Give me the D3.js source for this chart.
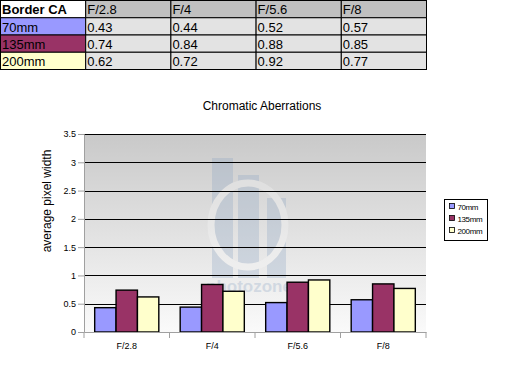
<!DOCTYPE html>
<html>
<head>
<meta charset="utf-8">
<script src="https://cdn.jsdelivr.net/npm/d3@7"></script>
<style>
  html, body { margin: 0; padding: 0; background: #fff; }
  svg { display: block; font-family: "Liberation Sans", Arial, sans-serif; }
</style>
</head>
<body>
<svg id="chart" width="512" height="376"></svg>
<script>
// Border chromatic aberration per focal length and aperture
const apertures = ["F/2.8", "F/4", "F/5.6", "F/8"];
const lenses = ["70mm", "135mm", "200mm"];
const ca70 = [0.43, 0.44, 0.52, 0.57];
const ca135 = [0.74, 0.84, 0.88, 0.85];
const ca200 = [0.62, 0.72, 0.92, 0.77];
const yTicks = [0, 0.5, 1, 1.5, 2, 2.5, 3, 3.5];

const series = [ca70, ca135, ca200];
const COLORS = ["#9999ff", "#993366", "#ffffcc"];

const svg = d3.select("#chart");

// ---- data table across the top ----
const colX = d3.scaleBand(["label", ...apertures], [0.5, 426.5]);
const rowY = d3.scaleBand(["head", ...lenses], [0.5, 69.5]);
const tbl = svg.append("g");

const cells = [];
cells.push({ col: "label", row: "head", text: "Border CA", fill: "#fff", bold: true });
apertures.forEach((a) => cells.push({ col: a, row: "head", text: a, fill: "#c0c0c0" }));
lenses.forEach((l, i) => {
  cells.push({ col: "label", row: l, text: l, fill: COLORS[i] });
  apertures.forEach((a, j) => cells.push({ col: a, row: l, text: series[i][j].toFixed(2), fill: "#e3e3e3" }));
});

tbl.selectAll("rect").data(cells).join("rect")
  .attr("x", (c) => colX(c.col)).attr("y", (c) => rowY(c.row))
  .attr("width", colX.bandwidth()).attr("height", rowY.bandwidth())
  .attr("fill", (c) => c.fill).attr("stroke", "#000").attr("stroke-width", 1);
tbl.selectAll("text").data(cells).join("text")
  .attr("x", (c) => colX(c.col) + 1.5).attr("y", (c) => rowY(c.row) + rowY.bandwidth() - 3.5)
  .attr("font-size", 13).attr("font-weight", (c) => (c.bold ? "bold" : "normal"))
  .attr("fill", "#000").text((c) => c.text);

// ---- bar chart ----
const plot = { left: 84, right: 426, top: 134, bottom: 332 };
const x = d3.scaleBand(apertures, [plot.left, plot.right]);
const xs = d3.scaleBand(lenses, [0, x.bandwidth()]).paddingInner(0).paddingOuter(0.5);
const y = d3.scaleLinear([0, 3.5], [plot.bottom, plot.top]);

const defs = svg.append("defs");
const grad = defs.append("linearGradient").attr("id", "bg").attr("x1", 0).attr("y1", 0).attr("x2", 0).attr("y2", 1);
grad.append("stop").attr("offset", "0%").attr("stop-color", "#c9c9c9");
grad.append("stop").attr("offset", "100%").attr("stop-color", "#fafafa");

svg.append("rect").attr("x", plot.left).attr("y", plot.top)
  .attr("width", plot.right - plot.left).attr("height", plot.bottom - plot.top)
  .attr("fill", "url(#bg)");

// faint photozone watermark
const wm = svg.append("g").attr("opacity", 0.3);
wm.append("rect").attr("x", 212).attr("y", 158).attr("width", 21).attr("height", 120).attr("fill", "#8ea6c4");
wm.append("rect").attr("x", 238).attr("y", 175).attr("width", 21).attr("height", 103).attr("fill", "#8ea6c4");
wm.append("rect").attr("x", 267).attr("y", 198).attr("width", 19).attr("height", 80).attr("fill", "#8ea6c4");
wm.append("ellipse").attr("cx", 248).attr("cy", 225).attr("rx", 37).attr("ry", 42)
  .attr("fill", "none").attr("stroke", "#fafafa").attr("stroke-width", 7);
wm.append("text").attr("x", 249).attr("y", 292).attr("text-anchor", "middle")
  .attr("font-size", 17).attr("font-weight", "bold").attr("fill", "#8ea6c4").text("photozone");

// gridlines
svg.append("g").selectAll("line").data(yTicks.filter((t) => t > 0)).join("line")
  .attr("x1", plot.left).attr("x2", plot.right)
  .attr("y1", (d) => Math.round(y(d)) + 0.5).attr("y2", (d) => Math.round(y(d)) + 0.5)
  .attr("stroke", "#000").attr("stroke-width", 1);

// bars
const bars = svg.append("g");
apertures.forEach((a, j) => {
  bars.selectAll(null).data(lenses).join("rect")
    .attr("x", (l) => x(a) + xs(l)).attr("width", xs.bandwidth())
    .attr("y", (l, i) => y(series[i][j])).attr("height", (l, i) => plot.bottom - y(series[i][j]))
    .attr("fill", (l, i) => COLORS[i]).attr("stroke", "#000").attr("stroke-width", 1.4);
});

// axes
const yAxis = svg.append("g").attr("transform", `translate(${plot.left},0)`)
  .call(d3.axisLeft(y).tickValues(yTicks).tickSize(6).tickPadding(2).tickFormat((d) => String(d)));
const xAxis = svg.append("g").attr("transform", `translate(0,${plot.bottom})`)
  .call(d3.axisBottom(x).tickSize(0).tickPadding(11));
xAxis.selectAll(".tick").append("line")
  .attr("x1", -x.bandwidth() / 2).attr("x2", -x.bandwidth() / 2).attr("y1", 0).attr("y2", 6)
  .attr("stroke", "#a0a0a0");
xAxis.append("line").attr("x1", plot.right).attr("x2", plot.right).attr("y1", 0).attr("y2", 6).attr("stroke", "#a0a0a0");
[yAxis, xAxis].forEach((ax) => {
  ax.selectAll(".domain").attr("stroke", "#a0a0a0");
  ax.selectAll(".tick line").attr("stroke", "#a0a0a0");
  ax.selectAll("text").attr("font-size", 9).attr("fill", "#000").attr("font-family", "'Liberation Sans', Arial, sans-serif");
});

// titles
svg.append("text").attr("x", 262).attr("y", 110).attr("text-anchor", "middle")
  .attr("font-size", 12).attr("fill", "#000").text("Chromatic Aberrations");
svg.append("text").attr("transform", "translate(51,201) rotate(-90)").attr("text-anchor", "middle")
  .attr("font-size", 12).attr("fill", "#000").text("average pixel width");

// legend
const lg = svg.append("g").attr("transform", "translate(444.5,199.5)");
lg.append("rect").attr("width", 43).attr("height", 41).attr("fill", "#fff").attr("stroke", "#000");
lenses.forEach((l, i) => {
  lg.append("rect").attr("x", 5).attr("y", 4 + i * 12).attr("width", 5).attr("height", 5)
    .attr("fill", COLORS[i]).attr("stroke", "#000").attr("stroke-width", 0.8);
  lg.append("text").attr("x", 13).attr("y", 10 + i * 12).attr("font-size", 8)
    .attr("letter-spacing", -0.4).attr("fill", "#000").text(l);
});
</script>
</body>
</html>
